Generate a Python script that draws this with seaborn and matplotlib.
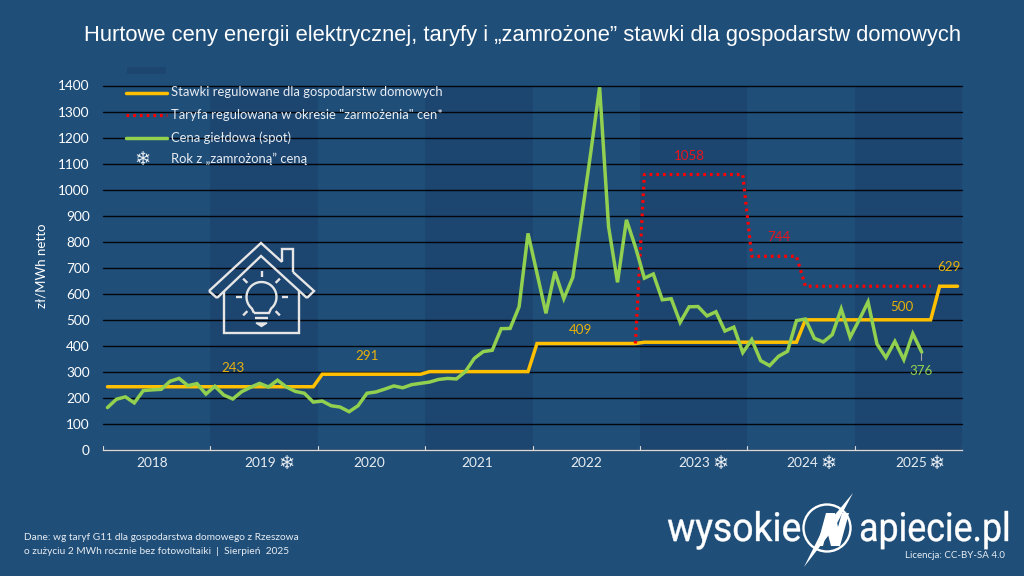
import numpy as np
import pandas as pd
import matplotlib
matplotlib.use("Agg")
import matplotlib.pyplot as plt
import seaborn as sns
from matplotlib.patches import Circle, Polygon, PathPatch, Rectangle
from matplotlib.lines import Line2D
from matplotlib.textpath import TextPath
from matplotlib.font_manager import FontProperties
from matplotlib.transforms import Affine2D

YEARS = [2018, 2019, 2020, 2021, 2022, 2023, 2024, 2025]
FROZEN_YEARS = [2019, 2023, 2024, 2025]

spot_2018 = [163, 195, 204, 181, 228, 231, 233, 264, 275, 247, 255, 215]
spot_2019 = [245, 211, 196, 224, 241, 256, 242, 268, 242, 225, 218, 184]
spot_2020 = [188, 170, 165, 147, 170, 218, 223, 234, 246, 239, 251, 256]
spot_2021 = [261, 271, 275, 273, 301, 352, 378, 383, 466, 467, 550, 832]
spot_2022 = [679, 525, 685, 581, 663, 896, 1140, 1393, 858, 644, 884, 780]
spot_2023 = [660, 676, 577, 581, 490, 550, 551, 515, 531, 457, 472, 374]
spot_2024 = [424, 343, 324, 360, 379, 497, 503, 429, 415, 443, 542, 433]
spot_2025 = [499, 569, 407, 355, 417, 347, 447, 376]

regulated_by_year = {
    2018: [243] * 12,
    2019: [243] * 12,
    2020: [291] * 12,
    2021: [301] * 12,
    2022: [409] * 12,
    2023: [414] * 12,
    2024: [414] * 6 + [500] * 6,
    2025: [500] * 9 + [629] * 3,
}

tariff_2022_dec = [409]
tariff_2023 = [1058] * 12
tariff_2024 = [744] * 6 + [629] * 6
tariff_2025 = [629] * 9

BG = "#1F4E79"
BAND = "#1C4570"
YELLOW = "#FFC000"
LABEL_YELLOW = "#E8B10A"
GREEN = "#92D050"
RED = "#FF0000"
TXT = "#FFFFFF"
LIGHT = "#E8EDF2"
DOTS = (0, (0.85, 1.25))

spot = spot_2018 + spot_2019 + spot_2020 + spot_2021 + spot_2022 + spot_2023 + spot_2024 + spot_2025
regulated = [v for y in YEARS for v in regulated_by_year[y]]
tariff = tariff_2022_dec + tariff_2023 + tariff_2024 + tariff_2025

months = np.arange(96)
df_reg = pd.DataFrame({"m": months, "v": regulated})
df_spot = pd.DataFrame({"m": months[:len(spot)], "v": spot})
df_tar = pd.DataFrame({"m": months[59:59 + len(tariff)], "v": tariff})

sns.set_theme(style="white", rc={"axes.facecolor": "none", "figure.facecolor": BG})
plt.rcParams["font.family"] = ["Lato", "DejaVu Sans"]

W, H = 1024, 576
fig = plt.figure(figsize=(W / 100, H / 100), dpi=100, facecolor=BG)

# Plot area in pixels: x 103..962, value axis 0..1400 between y=450 and y=85.5
ax = fig.add_axes([103 / W, 1 - 450 / H, (962 - 103) / W, (450 - 85.5) / H])
ax.set_ylim(0, 1400)
ax.set_xlim(-0.5, 95.5)

for i, year in enumerate(YEARS):
    if i % 2 == 1:
        ax.axvspan(i * 12 - 0.5, (i + 1) * 12 - 0.5, color=BAND, lw=0, zorder=0)

ax.set_yticks(np.arange(0, 1401, 100))
ax.tick_params(axis="y", length=0, labelsize=9.8, labelcolor=TXT, pad=9.5)
ax.yaxis.grid(True, color="#000000", lw=1.0, alpha=0.9, zorder=1, clip_on=False)
ax.set_axisbelow(True)
ax.set_ylabel("")

for name, spine in ax.spines.items():
    spine.set_visible(name == "bottom")
ax.spines["bottom"].set_color("#D9D9D9")
ax.spines["bottom"].set_linewidth(1.0)

ax.set_xticks([])
for k in np.arange(0, 97, 12) - 0.5:
    ax.plot([k, k], [0, 14], color="#D9D9D9", lw=0.8, zorder=2)

# Year captions sit on a slightly wider step than the year bands
for i, year in enumerate(YEARS):
    cx = 5 + i * 12.115
    ax.text(cx, -49, str(year), ha="center", va="center", color=LIGHT, fontsize=9.8)
    if year in FROZEN_YEARS:
        ax.text(cx + 2.9, -50, "\u2744", ha="center", va="center", color=LIGHT,
                fontsize=14, family="DejaVu Sans")

sns.lineplot(data=df_reg, x="m", y="v", ax=ax, color=YELLOW, lw=2.5, zorder=4,
             errorbar=None, solid_joinstyle="miter")
sns.lineplot(data=df_tar, x="m", y="v", ax=ax, color=RED, lw=2.3, zorder=5,
             errorbar=None, linestyle=DOTS, dash_capstyle="butt")
sns.lineplot(data=df_spot, x="m", y="v", ax=ax, color=GREEN, lw=2.5, zorder=6,
             errorbar=None, solid_joinstyle="miter")
ax.set_xlabel("")
ax.set_ylabel("")


def px(x, y):
    """Figure-fraction position from pixel coordinates."""
    return x / W, 1 - y / H


fig.text(*px(42, 266), "z\u0142/MWh netto", color=TXT, rotation=90, ha="center", va="center", fontsize=9.5)

# Value labels
for label, x, y, col in [
    ("243", 233, 368, LABEL_YELLOW), ("291", 367, 356, LABEL_YELLOW), ("409", 581, 330, LABEL_YELLOW),
    ("1058", 689, 156, "#E8141C"), ("744", 779, 237, "#E8141C"), ("500", 902, 307, LABEL_YELLOW),
    ("629", 949, 267, LABEL_YELLOW), ("376", 921, 371, GREEN),
]:
    fig.text(*px(x, y), label, color=col, ha="center", va="center", fontsize=9.6, zorder=8)
fig.add_artist(Line2D([921 / W, 921 / W], [1 - 353 / H, 1 - 360 / H], color="#A6A6A6", lw=0.8))

fig.text(*px(522.5, 35), "Hurtowe ceny energii elektrycznej, taryfy i \u201ezamro\u017cone\u201d stawki dla gospodarstw domowych",
         color=TXT, ha="center", va="center", fontsize=15.8, family="Liberation Sans")

# Legend block
fig.add_artist(Rectangle((127 / W, 1 - 74 / H), 39 / W, 7 / H, color=BAND, lw=0))
lx0, lx1 = 126, 167
fig.add_artist(Line2D([lx0 / W, lx1 / W], [1 - 93 / H] * 2, color=YELLOW, lw=2.5))
fig.add_artist(Line2D([lx0 / W, lx1 / W], [1 - 115 / H] * 2, color=RED, lw=2.3, linestyle=DOTS, dash_capstyle="butt"))
fig.add_artist(Line2D([lx0 / W, lx1 / W], [1 - 138 / H] * 2, color=GREEN, lw=2.5))
fig.text(*px(142, 159), "\u2744", color=LIGHT, ha="center", va="center", fontsize=14, family="DejaVu Sans")
for text, y in [("Stawki regulowane dla gospodarstw domowych", 92),
                ("Taryfa regulowana w okresie \"zarmo\u017cenia\" cen*", 115),
                ("Cena gie\u0142dowa (spot)", 138),
                ("Rok z \u201ezamro\u017con\u0105\u201d cen\u0105", 159)]:
    fig.text(*px(171, y), text, color=LIGHT, ha="left", va="center", fontsize=9.4)

# House icon
icon = dict(color="#E6E6E6", lw=1.7, solid_capstyle="butt", solid_joinstyle="miter")


def stroke(points, **kw):
    xs = [p[0] / W for p in points]
    ys = [1 - p[1] / H for p in points]
    style = dict(icon)
    style.update(kw)
    fig.add_artist(Line2D(xs, ys, **style))


stroke([(209, 291), (261, 243), (282, 262)])
stroke([(217, 298), (261, 256), (307, 298)])
stroke([(209, 291), (217, 298)])
stroke([(307, 298), (314, 291), (293, 272)])
stroke([(282, 262), (282, 249), (293, 249), (293, 272)])
stroke([(224, 291), (224, 333), (299, 333), (299, 291)])
arc = np.deg2rad(np.linspace(230, -50, 40))
stroke([(254, 313)] + [(261.5 + 15 * np.cos(a), 297 - 15 * np.sin(a)) for a in arc] + [(269, 313), (254, 313)])
stroke([(255, 318), (268, 318)])
fig.add_artist(Polygon([px(256, 323), px(267, 323), px(261.5, 326.5)], closed=True, color="#E6E6E6"))
for a in [0, 45, 135, 180, 225, 315, 90]:
    r = np.deg2rad(a)
    stroke([(261.5 + 20 * np.cos(r), 297 - 20 * np.sin(r)),
            (261.5 + 26 * np.cos(r), 297 - 26 * np.sin(r))], lw=1.7)

# Source note
fig.text(*px(24, 538), "Dane: wg taryf G11 dla gospodarstwa domowego z Rzeszowa", color=LIGHT, fontsize=7.3, va="center")
fig.text(*px(24, 551), "o zu\u017cyciu 2 MWh rocznie bez fotowoltaiki  |  Sierpie\u0144  2025", color=LIGHT, fontsize=7.3, va="center")

# Wordmark, each word squeezed to its width
overlay = fig.add_axes([0, 0, 1, 1], facecolor="none")
overlay.set_xlim(0, W)
overlay.set_ylim(H, 0)
overlay.axis("off")
fp = FontProperties(family="Roboto", weight="normal")


def wordmark(text, x0, x1, base, size):
    path = TextPath((0, 0), text, size=size, prop=fp)
    b = path.get_extents()
    tr = Affine2D().translate(-b.x0, 0).scale((x1 - x0) / b.width, -1).translate(x0, base)
    overlay.add_patch(PathPatch(path, transform=tr + overlay.transData, fc="white", ec="white", lw=0.3))


wordmark("wysokie", 668, 800, 541, 40)
wordmark("apiecie.pl", 861, 1008, 541, 40)
overlay.add_patch(Circle((827, 528), 23.5, fc="none", ec="white", lw=1.7))
overlay.add_patch(Polygon([(817, 546), (826, 513), (835, 513), (838, 527), (842, 513), (849, 513),
                           (840, 546), (831, 546), (827, 531), (823, 546)],
                          closed=True, fc="white", lw=0))
overlay.add_patch(Polygon([(853, 493), (835, 527), (804, 567), (823, 529)], closed=True, fc="white", lw=0))
fig.text(*px(1005, 555), "Licencja: CC-BY-SA 4.0", color=LIGHT, ha="right", va="center", fontsize=7)

fig.savefig("out.png", dpi=100, facecolor=BG)
